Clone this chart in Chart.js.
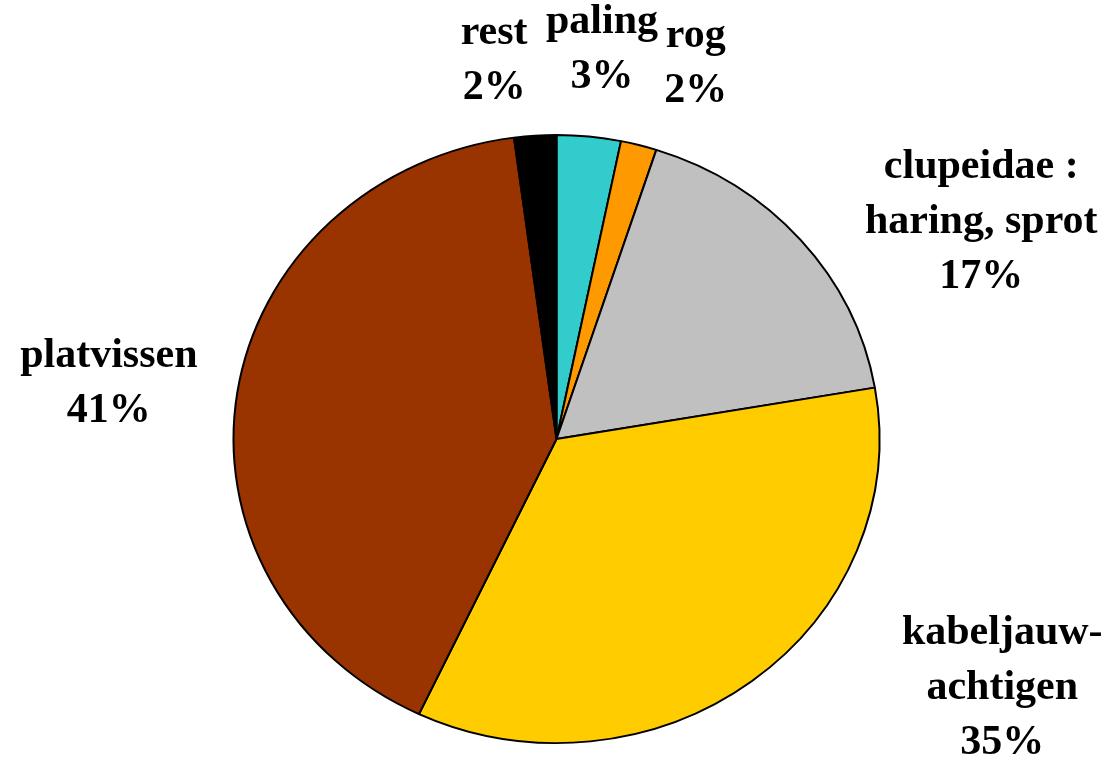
<!DOCTYPE html>
<html>
<head>
<meta charset="utf-8">
<script src="https://cdn.jsdelivr.net/npm/chart.js@4/dist/chart.umd.min.js"></script>
<style>
  html, body { margin: 0; padding: 0; background: #fff; }
  #wrap { width: 1111px; height: 763px; position: relative; }
</style>
</head>
<body>
<div id="wrap"><canvas id="myChart"></canvas></div>
<script>
// categories (multi-line labels as in the original) and shares in percent
const categories = [
    ['paling'],
    ['rog'],
    ['clupeidae :', 'haring, sprot'],
    ['kabeljauw-', 'achtigen'],
    ['platvissen'],
    ['rest']
];
const shares = [3.2, 1.8, 17.3, 34.7, 40.9, 2.1];
const sliceColors = ['#33CCCC', '#FF9900', '#C0C0C0', '#FFCC00', '#993300', '#000000'];

// where each label block sits, relative to pie centre, in units of radius
const labelOffsets = [
    [0.141, -1.206],
    [0.431, -1.162],
    [1.315, -0.672],
    [1.380, 0.771],
    [-1.386, -0.172],
    [-0.193, -1.172]
];

const squash = 304.5 / 323.5; // the pie in the picture is a little flattened

const ellipsePlugin = {
    id: 'ellipse',
    beforeDatasetsDraw(chart) {
        const arc = chart.getDatasetMeta(0).data[0];
        const ctx = chart.ctx;
        ctx.save();
        ctx.translate(arc.x, arc.y);
        ctx.scale(1, squash);
        ctx.translate(-arc.x, -arc.y);
    },
    afterDatasetsDraw(chart) {
        chart.ctx.restore();
    }
};

const labelPlugin = {
    id: 'sliceLabels',
    afterDraw(chart) {
        const ctx = chart.ctx;
        const meta = chart.getDatasetMeta(0);
        const data = chart.data.datasets[0].data;
        const total = data.reduce((a, b) => a + b, 0);
        ctx.save();
        ctx.font = 'bold 42px "Liberation Serif", "Times New Roman", serif';
        ctx.fillStyle = '#000';
        ctx.textAlign = 'center';
        ctx.textBaseline = 'middle';
        meta.data.forEach((arc, i) => {
            const r = arc.outerRadius;
            const cx = arc.x + labelOffsets[i][0] * r;
            const cy = arc.y + labelOffsets[i][1] * r;
            const lines = chart.data.labels[i].concat([Math.round(data[i] / total * 100) + '%']);
            const lh = 55;
            lines.forEach((t, j) => {
                ctx.fillText(t, cx, cy + (j - (lines.length - 1) / 2) * lh);
            });
        });
        ctx.restore();
    }
};

const ctx = document.getElementById('myChart').getContext('2d');
const myChart = new Chart(ctx, {
    type: 'pie',
    data: {
        labels: categories,
        datasets: [{
            data: shares,
            backgroundColor: sliceColors,
            borderColor: '#000000',
            borderWidth: 2
        }]
    },
    options: {
        responsive: true,
        maintainAspectRatio: false,
        animation: false,
        layout: {
            padding: { top: 115, left: 2, right: 0, bottom: 0 }
        },
        plugins: {
            legend: { display: false },
            tooltip: { enabled: false }
        }
    },
    plugins: [ellipsePlugin, labelPlugin]
});
</script>
</body>
</html>
